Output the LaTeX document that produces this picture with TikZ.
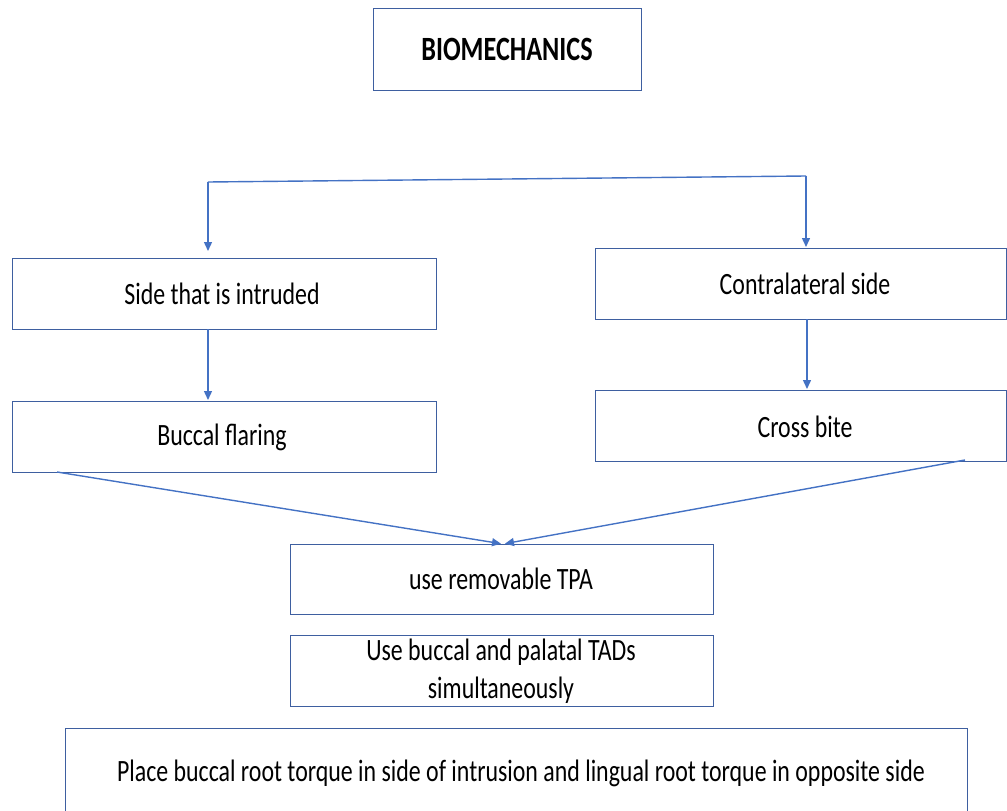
\documentclass[tikz,border=0pt]{standalone}
\usepackage{fontspec}
\setmainfont{Carlito}
\newfontfamily\calfont[FakeStretch=0.77]{Carlito}
\usetikzlibrary{arrows.meta,calc}
\definecolor{lineblue}{RGB}{68,114,196}
\definecolor{boxblue}{RGB}{62,95,160}
\tikzset{
  box/.style={draw=boxblue,line width=1.3pt,fill=white,anchor=north west,inner sep=0pt},
  lbl/.style={font=\calfont\fontsize{31}{38}\selectfont,align=center},
  conn/.style={draw=lineblue,line width=1.4pt},
  arr/.style={conn,-{Triangle[width=8pt,length=9pt]}},
}
\begin{document}
\begin{tikzpicture}[x=1pt,y=-1pt]
\useasboundingbox (0,0) rectangle (1007,811);
% boxes
\node[box,minimum width=268pt,minimum height=82pt] (bio) at (373,8) {};
\node[lbl,font=\calfont\bfseries\fontsize{34}{40}\selectfont] at (507,49) {BIOMECHANICS};
\node[box,minimum width=424pt,minimum height=71pt] (side) at (12,258) {};
\node[lbl] at (222,294) {Side that is intruded};
\node[box,minimum width=411pt,minimum height=71pt] (contra) at (595,248) {};
\node[lbl] at (805,284) {Contralateral side};
\node[box,minimum width=424pt,minimum height=71pt] (buccal) at (12,401) {};
\node[lbl] at (222,437) {Buccal flaring};
\node[box,minimum width=411pt,minimum height=71pt] (cross) at (595,390) {};
\node[lbl] at (805,427) {Cross bite};
\node[box,minimum width=423pt,minimum height=70pt] (tpa) at (290,544) {};
\node[lbl] at (501,579) {use removable TPA};
\node[box,minimum width=423pt,minimum height=71pt] (tads) at (290,635) {};
\node[lbl] at (501,671) {Use buccal and palatal TADs\\simultaneously};
\node[box,minimum width=902pt,minimum height=100pt] (torque) at (65,728) {};
\node[lbl] at (521,773) {Place buccal root torque in side of intrusion and lingual root torque in opposite side};
% connectors
\coordinate (tl) at (208,182);
\coordinate (tr) at (806,176);
\coordinate (bfl) at (57,472);
\coordinate (cbr) at (965,460);
\coordinate (tpaIn) at (503,544);
\draw[conn] (tl) -- (tr);
\draw[arr,shorten >=7pt] (tl) -- (tl |- side.north);
\draw[arr,shorten >=1pt] (tr) -- (tr |- contra.north);
\draw[arr,shorten >=1pt] (208,329) -- (208,401);
\draw[arr,shorten >=1pt] (807,319) -- (807,390);
\draw[arr,shorten >=2pt] (bfl) -- (tpaIn);
\draw[arr,shorten >=2pt] (cbr) -- (tpaIn);
\end{tikzpicture}
\end{document}
